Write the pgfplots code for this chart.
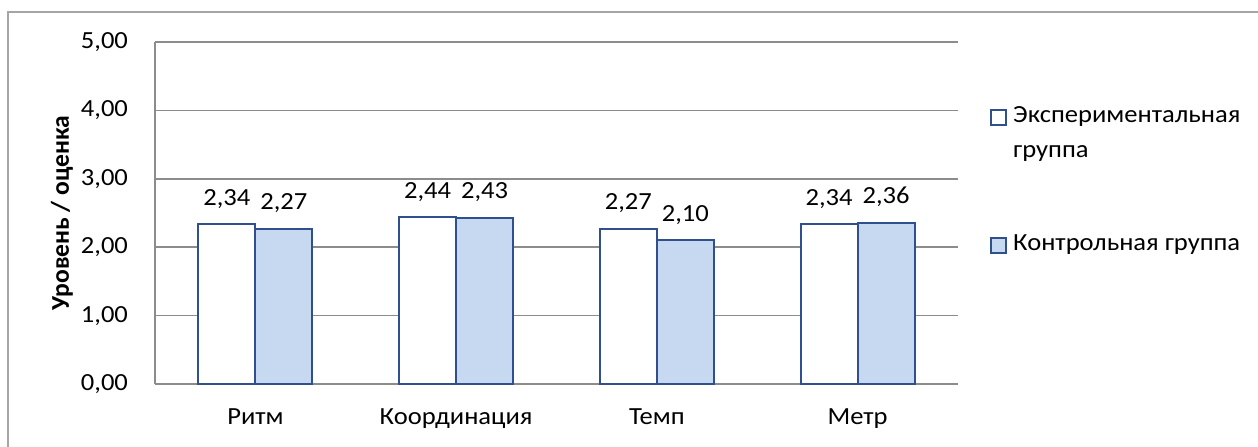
\documentclass[border=0pt]{standalone}
\usepackage{fontspec}
\setmainfont{Carlito}[FakeStretch=1.08]
\newfontfamily\ylabfont{Carlito}
\usepackage{pgfplots}
\pgfplotsset{compat=1.18}
\definecolor{barblue}{RGB}{198,217,241}
\definecolor{edgeblue}{RGB}{47,80,140}
\definecolor{gridgray}{RGB}{140,140,140}
\definecolor{framegray}{RGB}{165,165,165}
\pgfplotsset{
  sqA/.style={legend image code/.code={\draw[##1, line width=0.8pt] (-2pt,4.25pt) rectangle (5.5pt,11.75pt); \path[draw=none,fill=none] (-2pt,4pt) -- (7pt,4pt);}},
  sqB/.style={legend image code/.code={\draw[##1, line width=0.8pt] (-2pt,-4.75pt) rectangle (5.5pt,2.75pt); \path[draw=none,fill=none] (-2pt,0pt) -- (7pt,0pt);}},
}
\begin{document}
\begin{tikzpicture}[x=1pt,y=1pt]
\useasboundingbox (0,0) rectangle (629,223);
\draw[framegray, line width=0.8pt] (4,-2) -- (4,217) -- (631,217);
\begin{axis}[
  at={(77.5pt,31pt)}, anchor=south west,
  scale only axis, width=401.5pt, height=171pt,
  font=\fontsize{12.3}{14.6}\selectfont,
  xmin=-0.5, xmax=3.5, ymin=0, ymax=5,
  enlargelimits=false,
  ybar=0pt, bar width=28.5pt,
  axis x line=bottom, axis y line=left,
  axis line style={draw=gridgray, line width=0.75pt, -},
  ymajorgrids, grid style={draw=gridgray, line width=0.75pt},
  major tick length=0pt,
  ytick={0,1,2,3,4,5},
  xtick={0,1,2,3},
  xticklabels={Ритм, Координация, Темп, Метр},
  /pgf/number format/.cd, fixed, fixed zerofill, precision=2, use comma, assume math mode=true,
  /pgfplots/.cd,
  yticklabel style={anchor=east, xshift=-10pt},
  xticklabel style={anchor=north, yshift=-9pt},
  ylabel={\ylabfont\fontsize{12.8}{15}\selectfont\bfseries Уровень / оценка},
  ylabel style={at={(axis description cs:-0.1158,0.5)}, anchor=center, rotate=0},
  nodes near coords,
  every node near coord/.append style={anchor=south, yshift=4pt, text=black},
  legend style={at={(axis description cs:1,1)}, anchor=north west, xshift=13pt, yshift=-28pt,
    draw=none, fill=none, font=\fontsize{12.3}{17.5}\selectfont, row sep=33pt,
    nodes={align=left}, legend cell align=left},
]
\addplot[draw=edgeblue, fill=white, line width=1pt, sqA]
  coordinates {(0,2.34) (1,2.44) (2,2.27) (3,2.34)};
\addplot[draw=edgeblue, fill=barblue, line width=1pt, sqB]
  coordinates {(0,2.27) (1,2.43) (2,2.10) (3,2.36)};
\legend{Экспериментальная\\группа, Контрольная группа}
\end{axis}
\end{tikzpicture}
\end{document}
